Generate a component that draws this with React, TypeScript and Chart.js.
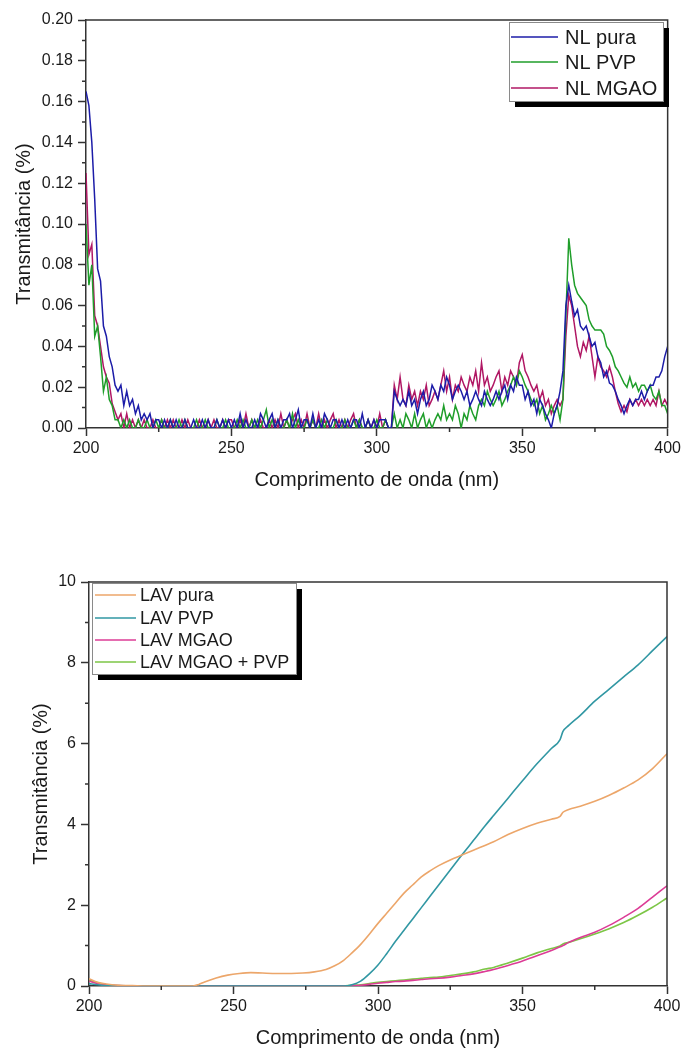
import React, { useEffect, useRef } from 'react';
import { Chart, registerables } from 'chart.js';

Chart.register(...registerables);

const FONT = "'Liberation Sans', Arial, Helvetica, sans-serif";
const AXIS = '#333333';
const TEXT = '#1a1a1a';

// ---------- Top chart (NL) ----------
const nlWavelengths = [
  200, 201, 202, 203, 204, 205, 206, 207, 208, 209,
  210, 211, 212, 213, 214, 215, 216, 217, 218, 219,
  220, 221, 222, 223, 224, 225, 226, 227, 228, 229,
  230, 231, 232, 233, 234, 235, 236, 237, 238, 239,
  240, 241, 242, 243, 244, 245, 246, 247, 248, 249,
  250, 251, 252, 253, 254, 255, 256, 257, 258, 259,
  260, 261, 262, 263, 264, 265, 266, 267, 268, 269,
  270, 271, 272, 273, 274, 275, 276, 277, 278, 279,
  280, 281, 282, 283, 284, 285, 286, 287, 288, 289,
  290, 291, 292, 293, 294, 295, 296, 297, 298, 299,
  300, 301, 302, 303, 304, 305, 306, 307, 308, 309,
  310, 311, 312, 313, 314, 315, 316, 317, 318, 319,
  320, 321, 322, 323, 324, 325, 326, 327, 328, 329,
  330, 331, 332, 333, 334, 335, 336, 337, 338, 339,
  340, 341, 342, 343, 344, 345, 346, 347, 348, 349,
  350, 351, 352, 353, 354, 355, 356, 357, 358, 359,
  360, 361, 362, 363, 364, 365, 366, 367, 368, 369,
  370, 371, 372, 373, 374, 375, 376, 377, 378, 379,
  380, 381, 382, 383, 384, 385, 386, 387, 388, 389,
  390, 391, 392, 393, 394, 395, 396, 397, 398, 399,
  400,
];

const nlPura = [
  0.165, 0.158, 0.140, 0.112, 0.078, 0.072, 0.050, 0.045, 0.035, 0.030,
  0.021, 0.018, 0.021, 0.011, 0.018, 0.011, 0.014, 0.007, 0.011, 0.004,
  0.007, 0.004, 0.007, 0.000, 0.004, 0.004, 0.000, 0.004, 0.000, 0.004,
  0.000, 0.004, 0.000, 0.000, 0.004, 0.000, 0.000, 0.004, 0.000, 0.000,
  0.004, 0.000, 0.004, 0.000, 0.000, 0.004, 0.000, 0.004, 0.000, 0.004,
  0.000, 0.004, 0.000, 0.007, 0.000, 0.004, 0.000, 0.000, 0.004, 0.000,
  0.007, 0.004, 0.000, 0.004, 0.007, 0.000, 0.004, 0.000, 0.004, 0.004,
  0.007, 0.000, 0.004, 0.009, 0.000, 0.004, 0.004, 0.000, 0.007, 0.000,
  0.004, 0.000, 0.007, 0.004, 0.000, 0.004, 0.004, 0.000, 0.004, 0.000,
  0.004, 0.000, 0.004, 0.004, 0.000, 0.007, 0.000, 0.004, 0.000, 0.004,
  0.000, 0.004, 0.004, 0.004, 0.000, 0.000, 0.018, 0.014, 0.011, 0.014,
  0.011, 0.018, 0.011, 0.014, 0.007, 0.014, 0.018, 0.011, 0.014, 0.021,
  0.018, 0.014, 0.021, 0.018, 0.025, 0.021, 0.014, 0.018, 0.021, 0.018,
  0.014, 0.018, 0.011, 0.014, 0.018, 0.014, 0.011, 0.018, 0.014, 0.011,
  0.014, 0.018, 0.014, 0.018, 0.021, 0.014, 0.021, 0.018, 0.025, 0.021,
  0.021, 0.014, 0.018, 0.011, 0.014, 0.007, 0.014, 0.011, 0.007, 0.004,
  0.000, 0.007, 0.011, 0.018, 0.028, 0.060, 0.070, 0.062, 0.055, 0.058,
  0.050, 0.048, 0.050, 0.045, 0.040, 0.042, 0.035, 0.032, 0.025, 0.028,
  0.022, 0.021, 0.018, 0.014, 0.011, 0.007, 0.011, 0.014, 0.011, 0.014,
  0.014, 0.018, 0.014, 0.018, 0.021, 0.021, 0.025, 0.025, 0.028, 0.035,
  0.040,
];

const nlPvp = [
  0.100, 0.070, 0.080, 0.045, 0.050, 0.035, 0.018, 0.025, 0.014, 0.011,
  0.004, 0.004, 0.000, 0.004, 0.000, 0.004, 0.000, 0.000, 0.004, 0.000,
  0.000, 0.004, 0.000, 0.000, 0.004, 0.000, 0.004, 0.000, 0.000, 0.004,
  0.000, 0.000, 0.004, 0.000, 0.004, 0.000, 0.000, 0.000, 0.004, 0.000,
  0.000, 0.004, 0.000, 0.000, 0.000, 0.004, 0.000, 0.000, 0.004, 0.000,
  0.000, 0.000, 0.004, 0.000, 0.004, 0.000, 0.000, 0.004, 0.000, 0.004,
  0.000, 0.004, 0.009, 0.000, 0.004, 0.000, 0.004, 0.000, 0.000, 0.004,
  0.000, 0.007, 0.000, 0.004, 0.000, 0.000, 0.004, 0.000, 0.004, 0.000,
  0.000, 0.004, 0.000, 0.004, 0.000, 0.000, 0.004, 0.000, 0.000, 0.004,
  0.000, 0.000, 0.004, 0.000, 0.004, 0.000, 0.000, 0.004, 0.000, 0.000,
  0.004, 0.000, 0.000, 0.004, 0.000, 0.000, 0.007, 0.000, 0.004, 0.000,
  0.007, 0.004, 0.000, 0.007, 0.000, 0.004, 0.007, 0.000, 0.004, 0.000,
  0.004, 0.007, 0.004, 0.011, 0.004, 0.007, 0.004, 0.011, 0.007, 0.000,
  0.007, 0.004, 0.011, 0.007, 0.004, 0.011, 0.014, 0.011, 0.018, 0.014,
  0.011, 0.014, 0.018, 0.011, 0.014, 0.018, 0.021, 0.025, 0.021, 0.028,
  0.025, 0.021, 0.018, 0.014, 0.011, 0.014, 0.007, 0.011, 0.004, 0.007,
  0.011, 0.007, 0.011, 0.004, 0.014, 0.055, 0.093, 0.080, 0.070, 0.066,
  0.064, 0.062, 0.060, 0.053, 0.050, 0.048, 0.048, 0.048, 0.046, 0.040,
  0.038, 0.035, 0.030, 0.028, 0.025, 0.022, 0.020, 0.025, 0.020, 0.022,
  0.018, 0.021, 0.021, 0.018, 0.021, 0.016, 0.014, 0.018, 0.011, 0.011,
  0.007,
];

const nlMgao = [
  0.125, 0.085, 0.090, 0.055, 0.050, 0.040, 0.030, 0.025, 0.022, 0.012,
  0.008, 0.004, 0.007, 0.000, 0.007, 0.000, 0.004, 0.000, 0.004, 0.000,
  0.004, 0.000, 0.000, 0.004, 0.000, 0.000, 0.004, 0.000, 0.004, 0.000,
  0.004, 0.000, 0.000, 0.004, 0.000, 0.004, 0.000, 0.000, 0.000, 0.004,
  0.000, 0.000, 0.004, 0.000, 0.004, 0.000, 0.000, 0.004, 0.000, 0.004,
  0.004, 0.000, 0.000, 0.004, 0.000, 0.007, 0.000, 0.004, 0.000, 0.000,
  0.004, 0.000, 0.000, 0.004, 0.000, 0.004, 0.000, 0.007, 0.000, 0.004,
  0.000, 0.004, 0.007, 0.000, 0.004, 0.000, 0.007, 0.000, 0.004, 0.000,
  0.007, 0.000, 0.004, 0.000, 0.004, 0.007, 0.000, 0.004, 0.000, 0.004,
  0.000, 0.004, 0.007, 0.000, 0.004, 0.000, 0.000, 0.004, 0.000, 0.004,
  0.000, 0.007, 0.000, 0.004, 0.000, 0.000, 0.021, 0.014, 0.025, 0.014,
  0.011, 0.021, 0.014, 0.018, 0.011, 0.018, 0.014, 0.021, 0.011, 0.014,
  0.018, 0.014, 0.021, 0.028, 0.018, 0.025, 0.014, 0.021, 0.018, 0.025,
  0.021, 0.018, 0.025, 0.021, 0.028, 0.018, 0.032, 0.021, 0.025, 0.018,
  0.021, 0.025, 0.028, 0.018, 0.025, 0.021, 0.028, 0.025, 0.021, 0.032,
  0.036, 0.028, 0.025, 0.021, 0.018, 0.021, 0.014, 0.018, 0.011, 0.014,
  0.007, 0.011, 0.014, 0.011, 0.014, 0.045, 0.065, 0.060, 0.050, 0.040,
  0.035, 0.042, 0.038, 0.045, 0.035, 0.025, 0.035, 0.030, 0.028, 0.025,
  0.030, 0.025, 0.018, 0.012, 0.008, 0.011, 0.008, 0.014, 0.011, 0.014,
  0.011, 0.014, 0.011, 0.014, 0.011, 0.014, 0.011, 0.018, 0.011, 0.014,
  0.011,
];

const nlLabels = ['NL pura', 'NL PVP', 'NL MGAO'];
const nlColors = ['#1c1ca8', '#1f9e2a', '#b01764'];
const nlYMinor = [0.01, 0.03, 0.05, 0.07, 0.09, 0.11, 0.13, 0.15, 0.17, 0.19];

// ---------- Bottom chart (LAV) ----------
const lavWavelengths = [
  200, 203, 206, 210, 215, 220, 230, 236, 238, 240,
  244, 248, 252, 256, 260, 265, 270, 274, 278, 282,
  285, 288, 291, 294, 297, 300, 303, 306, 309, 312,
  315, 318, 321, 325, 329, 333, 337, 340, 345, 350,
  355, 360, 363, 364, 366, 370, 375, 380, 385, 390,
  395, 400,
];

const lavPura = [
  0.18, 0.09, 0.05, 0.02, 0.01, 0.0, 0.0, 0.0, 0.04, 0.1,
  0.2, 0.27, 0.31, 0.33, 0.32, 0.31, 0.31, 0.32, 0.35, 0.41,
  0.5, 0.63, 0.82, 1.03, 1.28, 1.55, 1.8, 2.05, 2.3, 2.5,
  2.7, 2.85, 2.98, 3.12, 3.24, 3.36, 3.48, 3.57, 3.75, 3.9,
  4.03, 4.13, 4.2, 4.3, 4.37, 4.45, 4.57, 4.72, 4.9, 5.1,
  5.38, 5.75,
];

const lavPvp = [
  0.06, 0.03, 0.01, 0.0, 0.0, 0.0, 0.0, 0.0, 0.0, 0.0,
  0.0, 0.0, 0.0, 0.0, 0.0, 0.0, 0.0, 0.0, 0.0, 0.0,
  0.0, 0.0, 0.03, 0.12, 0.3, 0.52, 0.8, 1.1, 1.38, 1.66,
  1.94, 2.22, 2.5, 2.87, 3.24, 3.6, 3.96, 4.22, 4.65, 5.08,
  5.5, 5.88, 6.1, 6.3, 6.45, 6.7, 7.05, 7.35, 7.65, 7.95,
  8.3, 8.65,
];

const lavMgao = [
  0.12, 0.06, 0.03, 0.01, 0.0, 0.0, 0.0, 0.0, 0.0, 0.0,
  0.0, 0.0, 0.0, 0.0, 0.0, 0.0, 0.0, 0.0, 0.0, 0.0,
  0.0, 0.0, 0.01, 0.02, 0.04, 0.07, 0.09, 0.11, 0.12, 0.14,
  0.16, 0.18, 0.19, 0.22, 0.26, 0.3, 0.36, 0.41, 0.51, 0.62,
  0.75, 0.88, 0.97, 1.0, 1.08, 1.2, 1.33, 1.5, 1.7, 1.92,
  2.2, 2.48,
];

const lavMgaoPvp = [
  0.15, 0.08, 0.03, 0.01, 0.0, 0.0, 0.0, 0.0, 0.0, 0.0,
  0.0, 0.0, 0.0, 0.0, 0.0, 0.0, 0.0, 0.0, 0.0, 0.0,
  0.0, 0.0, 0.02, 0.03, 0.06, 0.09, 0.11, 0.13, 0.15, 0.17,
  0.19, 0.21, 0.22, 0.26, 0.3, 0.35, 0.42, 0.46, 0.57, 0.69,
  0.82, 0.93, 0.99, 1.04, 1.08, 1.17, 1.29, 1.42, 1.57, 1.75,
  1.95, 2.18,
];

const lavLabels = ['LAV pura', 'LAV PVP', 'LAV MGAO', 'LAV MGAO + PVP'];
const lavColors = ['#eca66a', '#3197a3', '#dc3c96', '#7cc646'];
const lavYMinor = [1, 3, 5, 7, 9];

const xMinor = [225, 275, 325, 375];
const xTitle = 'Comprimento de onda (nm)';
const yTitle = 'Transmitância (%)';

type Legend = {
  x: number; y: number; w: number; h: number; shadow: number;
  rows: number[]; lineX1: number; lineX2: number; textX: number; fontSize: number;
  labels: string[]; colors: string[];
};

type Decor = {
  xMinor: number[]; yMinor: number[];
  xTitleY: number; yTitleX: number; legend: Legend;
};

function decorPlugin(d: Decor) {
  return {
    id: 'decor',
    afterDraw(chart: any) {
      const ctx = chart.ctx as CanvasRenderingContext2D;
      const a = chart.chartArea;
      const xs = chart.scales.x;
      const ys = chart.scales.y;
      ctx.save();
      ctx.strokeStyle = AXIS;
      ctx.lineWidth = 1.5;
      ctx.beginPath();
      ctx.moveTo(a.left, a.top);
      ctx.lineTo(a.right, a.top);
      ctx.lineTo(a.right, a.bottom);
      ctx.stroke();
      ctx.beginPath();
      for (const v of d.xMinor) {
        const px = xs.getPixelForValue(v);
        ctx.moveTo(px, a.bottom);
        ctx.lineTo(px, a.bottom + 4);
      }
      for (const v of d.yMinor) {
        const py = ys.getPixelForValue(v);
        ctx.moveTo(a.left, py);
        ctx.lineTo(a.left - 4, py);
      }
      ctx.stroke();

      ctx.fillStyle = TEXT;
      ctx.font = `20px ${FONT}`;
      ctx.textAlign = 'center';
      ctx.textBaseline = 'middle';
      ctx.fillText(xTitle, (a.left + a.right) / 2, d.xTitleY);
      ctx.save();
      ctx.translate(d.yTitleX, (a.top + a.bottom) / 2);
      ctx.rotate(-Math.PI / 2);
      ctx.fillText(yTitle, 0, 0);
      ctx.restore();

      const L = d.legend;
      ctx.fillStyle = '#000';
      ctx.fillRect(L.x + L.shadow, L.y + L.shadow, L.w, L.h);
      ctx.fillStyle = '#fff';
      ctx.fillRect(L.x, L.y, L.w, L.h);
      ctx.strokeStyle = '#8a8a8a';
      ctx.lineWidth = 1;
      ctx.strokeRect(L.x + 0.5, L.y + 0.5, L.w, L.h);
      ctx.font = `${L.fontSize}px ${FONT}`;
      ctx.textAlign = 'left';
      ctx.textBaseline = 'middle';
      L.labels.forEach((lab, i) => {
        const yy = L.rows[i];
        ctx.strokeStyle = L.colors[i];
        ctx.lineWidth = 1.5;
        ctx.beginPath();
        ctx.moveTo(L.lineX1, yy);
        ctx.lineTo(L.lineX2, yy);
        ctx.stroke();
        ctx.fillStyle = TEXT;
        ctx.fillText(lab, L.textX, yy + 1);
      });
      ctx.restore();
    },
  };
}

function buildConfig(opts: {
  xs: number[]; series: number[][]; labels: string[]; colors: string[];
  yMax: number; yStep: number; yFmt: (v: number) => string;
  area: { left: number; right: number; top: number; bottom: number; width: number; height: number };
  decor: Decor; tension: number; lineWidth: number;
}) {
  const { area } = opts;
  return {
    type: 'line' as const,
    data: {
      datasets: opts.series.map((s, i) => ({
        label: opts.labels[i],
        data: opts.xs.map((x, j) => ({ x, y: s[j] })),
        borderColor: opts.colors[i],
        backgroundColor: opts.colors[i],
        borderWidth: opts.lineWidth,
        pointRadius: 0,
        tension: opts.tension,
        cubicInterpolationMode: opts.tension > 0 ? ('monotone' as const) : ('default' as const),
        fill: false,
      })),
    },
    options: {
      responsive: false,
      animation: false as const,
      events: [],
      layout: {
        padding: { left: 0, top: area.top, right: area.width - area.right, bottom: 0 },
      },
      plugins: { legend: { display: false }, tooltip: { enabled: false }, title: { display: false } },
      scales: {
        x: {
          type: 'linear' as const,
          min: 200,
          max: 400,
          afterFit: (s: any) => { s.height = area.height - area.bottom; },
          ticks: {
            stepSize: 50,
            autoSkip: false,
            maxRotation: 0,
            padding: 3,
            color: TEXT,
            font: { family: FONT, size: 16 },
          },
          grid: { drawOnChartArea: false, drawTicks: true, tickLength: 8, tickColor: AXIS, tickWidth: 1.5 },
          border: { display: true, color: AXIS, width: 1.5 },
          title: { display: false },
        },
        y: {
          type: 'linear' as const,
          min: 0,
          max: opts.yMax,
          afterFit: (s: any) => { s.width = area.left; },
          ticks: {
            stepSize: opts.yStep,
            autoSkip: false,
            padding: 5,
            color: TEXT,
            font: { family: FONT, size: 16 },
            callback: (v: any) => opts.yFmt(Number(v)),
          },
          grid: { drawOnChartArea: false, drawTicks: true, tickLength: 8, tickColor: AXIS, tickWidth: 1.5 },
          border: { display: true, color: AXIS, width: 1.5 },
          title: { display: false },
        },
      },
    },
    plugins: [decorPlugin(opts.decor)],
  };
}

const TOP_H = 530;
const BOT_H = 518;

function ChartCanvas({ make, height }: { make: (c: HTMLCanvasElement) => Chart; height: number }) {
  const ref = useRef<HTMLCanvasElement | null>(null);
  useEffect(() => {
    if (!ref.current) return;
    const chart = make(ref.current);
    return () => chart.destroy();
  }, []);
  return (
    <canvas
      ref={ref}
      width={684}
      height={height}
      style={{ display: 'block', width: 684, height }}
    />
  );
}

function makeTop(c: HTMLCanvasElement) {
  const cfg = buildConfig({
    xs: nlWavelengths,
    series: [nlPura, nlPvp, nlMgao],
    labels: nlLabels,
    colors: nlColors,
    yMax: 0.2,
    yStep: 0.02,
    yFmt: (v) => v.toFixed(2),
    area: { left: 86, right: 670, top: 20, bottom: 428, width: 684, height: TOP_H },
    tension: 0,
    lineWidth: 1.5,
    decor: {
      xMinor,
      yMinor: nlYMinor,
      xTitleY: 480,
      yTitleX: 24,
      legend: {
        x: 509, y: 22, w: 154, h: 79, shadow: 6,
        rows: [37, 62, 88], lineX1: 511, lineX2: 558, textX: 565, fontSize: 20,
        labels: nlLabels, colors: nlColors,
      },
    },
  });
  return new Chart(c, cfg as any);
}

function makeBottom(c: HTMLCanvasElement) {
  const cfg = buildConfig({
    xs: lavWavelengths,
    series: [lavPura, lavPvp, lavMgao, lavMgaoPvp],
    labels: lavLabels,
    colors: lavColors,
    yMax: 10,
    yStep: 2,
    yFmt: (v) => String(Math.round(v)),
    area: { left: 89, right: 667, top: 52, bottom: 456, width: 684, height: BOT_H },
    tension: 0.3,
    lineWidth: 1.6,
    decor: {
      xMinor,
      yMinor: lavYMinor,
      xTitleY: 508,
      yTitleX: 41,
      legend: {
        x: 92, y: 53, w: 204, h: 91, shadow: 6,
        rows: [65, 88, 110, 132], lineX1: 95, lineX2: 136, textX: 140, fontSize: 18,
        labels: lavLabels, colors: lavColors,
      },
    },
  });
  return new Chart(c, cfg as any);
}

export default function App() {
  return (
    <div style={{ position: 'absolute', left: 0, top: 0, width: 684, height: 1048, background: '#fff' }}>
      <ChartCanvas make={makeTop} height={TOP_H} />
      <ChartCanvas make={makeBottom} height={BOT_H} />
    </div>
  );
}
